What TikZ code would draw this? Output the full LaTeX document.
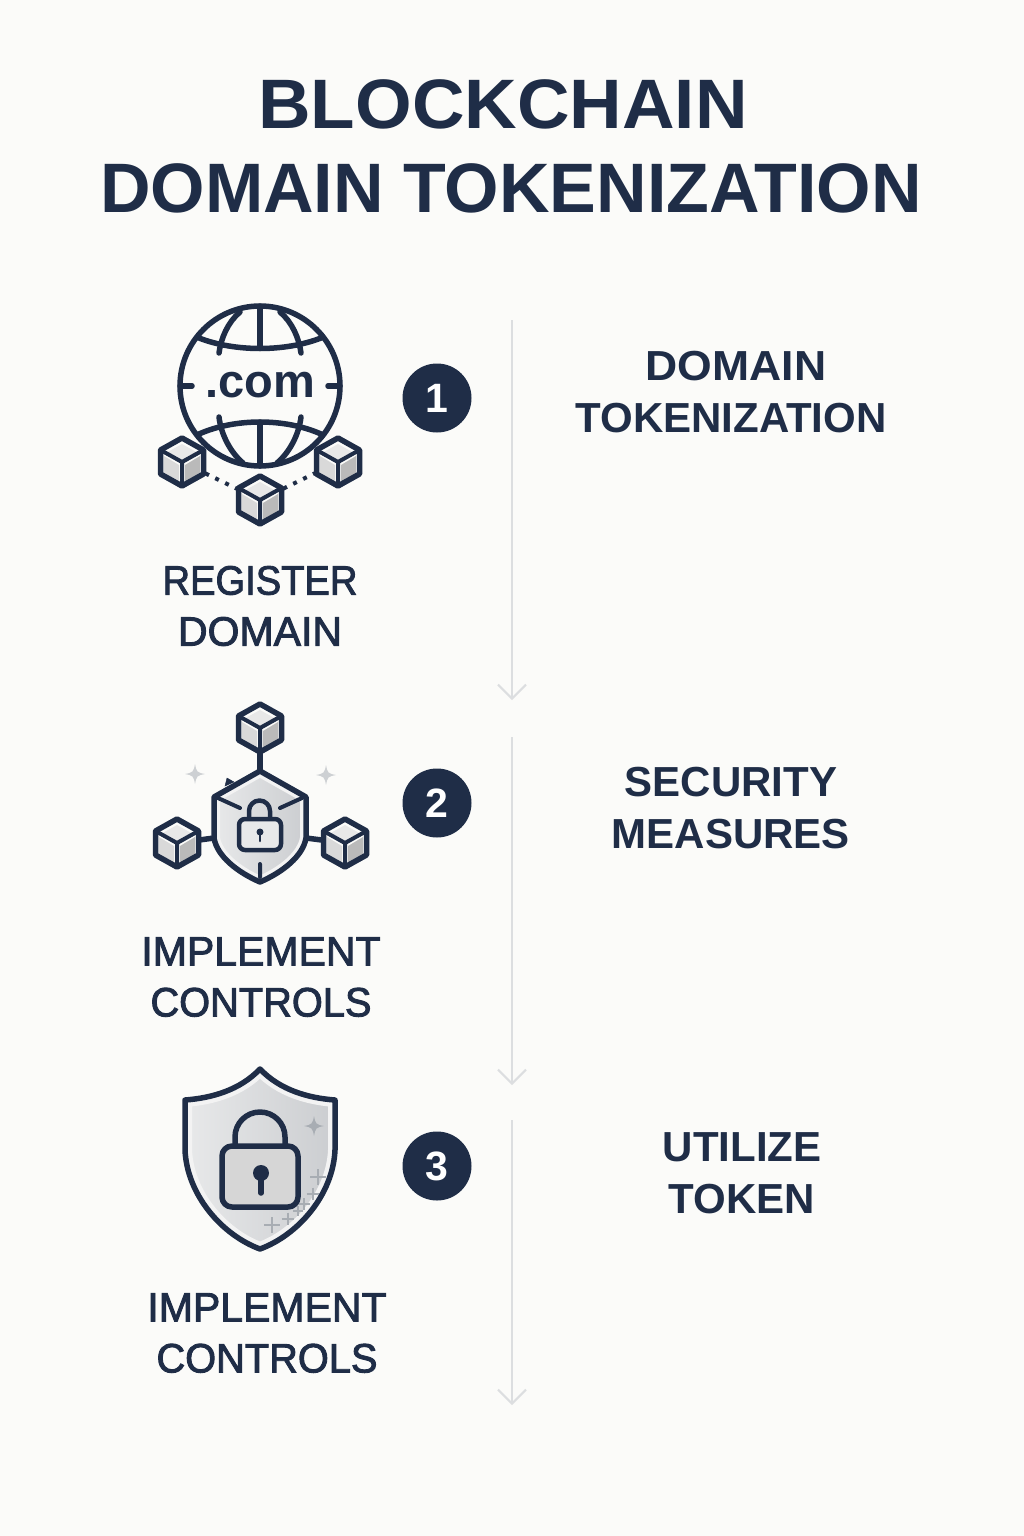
\documentclass[tikz,border=0pt]{standalone}
\usepackage{fontspec}
\usepackage{tikz}
\usepackage{xcolor}
\usetikzlibrary{arrows.meta}
\setmainfont{Liberation Sans}
\newcommand{\medweight}[1]{\special{pdf:code 2 Tr 0.9 w}#1\special{pdf:code 0 Tr 1 w}}
\newcommand{\padshieldpath}{(260,1069)
    .. controls (240,1090) and (212,1098) .. (185,1100) -- (185,1150)
    .. controls (187,1195) and (222,1235) .. (260,1249)
    .. controls (298,1235) and (333,1195) .. (335,1150) -- (335,1100)
    .. controls (308,1098) and (280,1090) .. (260,1069) -- cycle}
\newcommand{\hubshieldpath}{(260,771) -- (306,797) -- (306,838)
    .. controls (303,856) and (283,872) .. (260,882) .. controls (237,872) and (217,856) .. (214,838)
    -- (214,797) -- cycle}
\definecolor{navyink}{RGB}{31, 45, 71}
\definecolor{paperbg}{RGB}{251, 251, 249}
\definecolor{flowgrey}{RGB}{220, 222, 224}
\definecolor{sparkgrey}{RGB}{205, 208, 211}
\definecolor{markgrey}{RGB}{168, 173, 179}
\definecolor{shieldlight}{RGB}{232, 233, 234}
\definecolor{shielddark}{RGB}{203, 205, 208}
\definecolor{shieldedge}{RGB}{243, 243, 243}

\tikzset{
  icon/.style={draw=navyink, line width=5.5pt, line join=round, line cap=round},
  titletext/.style={text=navyink, font=\bfseries\fontsize{70}{84}\selectfont},
  steptext/.style={text=navyink, align=center, font=\fontsize{41}{51}\selectfont},
  headtext/.style={text=navyink, align=center, font=\bfseries\fontsize{42}{52}\selectfont},
  badge/.style={circle, fill=navyink, text=white, minimum size=69pt, inner sep=0pt, font=\bfseries\fontsize{41}{41}\selectfont},
  flow/.style={draw=flowgrey, line width=2pt, -{Straight Barb[length=14pt,width=28pt]}},
  blockcube/.pic={
    \fill[paperbg] (0,-24) -- (21.5,-12) -- (21.5,12) -- (0,24) -- (-21.5,12) -- (-21.5,-12) -- cycle;
    \fill[black!9] (0,-18) -- (16,-9) -- (0,0) -- (-16,-9) -- cycle;
    \fill[black!15] (-18,-6) -- (-3,3) -- (-3,20) -- (-18,11) -- cycle;
    \fill[black!27] (18,-6) -- (3,3) -- (3,20) -- (18,11) -- cycle;
    \draw[icon] (0,-24) -- (21.5,-12) -- (21.5,12) -- (0,24) -- (-21.5,12) -- (-21.5,-12) -- cycle;
    \draw[icon, line width=4pt] (-21.5,-12) -- (0,0) -- (21.5,-12) (0,0) -- (0,24);
  },
  sparkle/.pic={
    \fill (0,-10) .. controls (1.5,-2) and (2,-1.5) .. (10,0) .. controls (2,1.5) and (1.5,2) .. (0,10)
      .. controls (-1.5,2) and (-2,1.5) .. (-10,0) .. controls (-2,-1.5) and (-1.5,-2) .. (0,-10) -- cycle;
  },
  gridmark/.pic={
    \draw[markgrey, line width=2.5pt] (-8,0) -- (8,0) (0,-8) -- (0,8);
  }
}

\begin{document}
\begin{tikzpicture}[x=1pt, y=-1pt]
  \useasboundingbox (0,0) rectangle (1024,1536);
  \fill[paperbg] (0,0) rectangle (1024,1536);

  % title
  \node[titletext, xscale=1.04, transform shape] (titleA) at (503,104) {BLOCKCHAIN};
  \node[titletext] (titleB) at (511,188) {DOMAIN TOKENIZATION};

  % flow lines
  \coordinate (flowA) at (512,320);
  \coordinate (flowAend) at (512,700);
  \coordinate (flowB) at (512,737);
  \coordinate (flowBend) at (512,1085);
  \coordinate (flowC) at (512,1120);
  \coordinate (flowCend) at (512,1405);
  \draw[flow] (flowA) -- (flowAend);
  \draw[flow] (flowB) -- (flowBend);
  \draw[flow] (flowC) -- (flowCend);

  % step badges
  \node[badge] (badgeA) at (437,398) {1};
  \node[badge] (badgeB) at (437,803) {2};
  \node[badge] (badgeC) at (437,1166) {3};

  % right column
  \node[headtext] (headA) at (731,392) {\hspace*{10pt}\scalebox{1.06}[1]{DOMAIN}\\TOKENIZATION};
  \node[headtext] (headB) at (731,808) {SECURITY\\MEASURES};
  \node[headtext] (headC) at (742,1173) {UTILIZE\\TOKEN};

  % left column
  \node[steptext] (stepA) at (260,606) {\scalebox{.93}[1]{\medweight{REGISTER}}\\\medweight{DOMAIN}};
  \node[steptext] (stepB) at (261,977) {\medweight{IMPLEMENT}\\\scalebox{.97}[1]{\medweight{CONTROLS}}};
  \node[steptext] (stepC) at (267,1333) {\medweight{IMPLEMENT}\\\scalebox{.97}[1]{\medweight{CONTROLS}}};

  % globe
  \draw[icon] (260,386) circle (80);
  \draw[icon] (260,306) -- (260,348) (260,422) -- (260,466);
  \draw[icon] (199,338) .. controls (235,352) and (285,352) .. (321,338);
  \draw[icon] (199,434) .. controls (235,418) and (285,418) .. (321,434);
  \draw[icon] (240,312) .. controls (228,322) and (221,338) .. (219,353);
  \draw[icon] (280,312) .. controls (292,322) and (299,338) .. (301,353);
  \draw[icon] (219,417) .. controls (221,434) and (230,452) .. (243,463);
  \draw[icon] (301,417) .. controls (299,434) and (290,452) .. (277,463);
  \draw[icon] (180,386) -- (192,386) (328,386) -- (340,386);
  \node[text=navyink, font=\bfseries\fontsize{47}{47}\selectfont] (domainname) at (260,385) {.com};

  % cubes under the globe
  \coordinate (cubeA) at (182,462);
  \coordinate (cubeB) at (260,500);
  \coordinate (cubeC) at (338,462);
  \draw[navyink, line width=4pt, dash pattern=on 4pt off 7pt, shorten >=26pt, shorten <=26pt] (cubeA) -- (cubeB);
  \draw[navyink, line width=4pt, dash pattern=on 4pt off 7pt, shorten >=26pt, shorten <=26pt] (cubeB) -- (cubeC);
  \pic at (cubeA) {blockcube};
  \pic at (cubeB) {blockcube};
  \pic at (cubeC) {blockcube};

  % shield with three cubes
  \coordinate (cubeD) at (260,728);
  \coordinate (cubeE) at (177,843);
  \coordinate (cubeF) at (345,843);
  \coordinate (hubtop) at (260,771);
  \coordinate (hubleft) at (214,838);
  \coordinate (hubright) at (306,838);
  \draw[icon] (cubeD) -- (hubtop);
  \draw[icon] (cubeE) -- (hubleft);
  \draw[icon] (cubeF) -- (hubright);
  \pic at (cubeD) {blockcube};
  \pic at (cubeE) {blockcube};
  \pic at (cubeF) {blockcube};
  \pic[sparkgrey] at (195,774) {sparkle};
  \pic[sparkgrey] at (326,775) {sparkle};
  \shade[left color=shieldlight, right color=shielddark] \hubshieldpath;
  \begin{scope}
    \clip \hubshieldpath;
    \draw[shieldedge, line width=12pt] \hubshieldpath;
  \end{scope}
  \draw[icon] \hubshieldpath;
  \draw[icon, line width=4pt] (218,798) -- (240,808) (280,808) -- (302,798) (260,864) -- (260,877);
  \draw[navyink, fill=navyink] (225,786) -- (227,778) -- (234,782) -- cycle;
  \draw[icon, line width=4.5pt] (249,819) -- (249,811) arc[start angle=180, end angle=360, radius=10.5] -- (270,819);
  \draw[icon, line width=4.5pt, fill=shieldlight, rounded corners=6pt] (239,819) rectangle (281,850);
  \fill[navyink] (260,832) circle (3.5);
  \draw[navyink, line width=2.5pt, line cap=round] (260,832) -- (260,841);

  % shield with padlock
  \shade[left color=shieldlight, right color=shielddark] \padshieldpath;
  \begin{scope}
    \clip \padshieldpath;
    \draw[shieldedge, line width=14pt] \padshieldpath;
  \end{scope}
  \draw[icon] \padshieldpath;
  \pic[markgrey] at (314,1126) {sparkle};
  \pic at (318,1177) {gridmark};
  \pic[scale=.8] at (313,1194) {gridmark};
  \pic[scale=.7] at (304,1204) {gridmark};
  \pic[scale=.6] at (298,1211) {gridmark};
  \pic[scale=.8] at (288,1219) {gridmark};
  \pic at (272,1225) {gridmark};
  \draw[icon] (235,1145) -- (235,1137) arc[start angle=180, end angle=360, radius=25] -- (285,1145);
  \draw[icon, fill=black!16, rounded corners=10pt] (222,1146) rectangle (298,1207);
  \fill[navyink] (261,1173) circle (8);
  \draw[navyink, line width=5.5pt, line cap=round] (261,1173) -- (261,1193);
\end{tikzpicture}
\end{document}
